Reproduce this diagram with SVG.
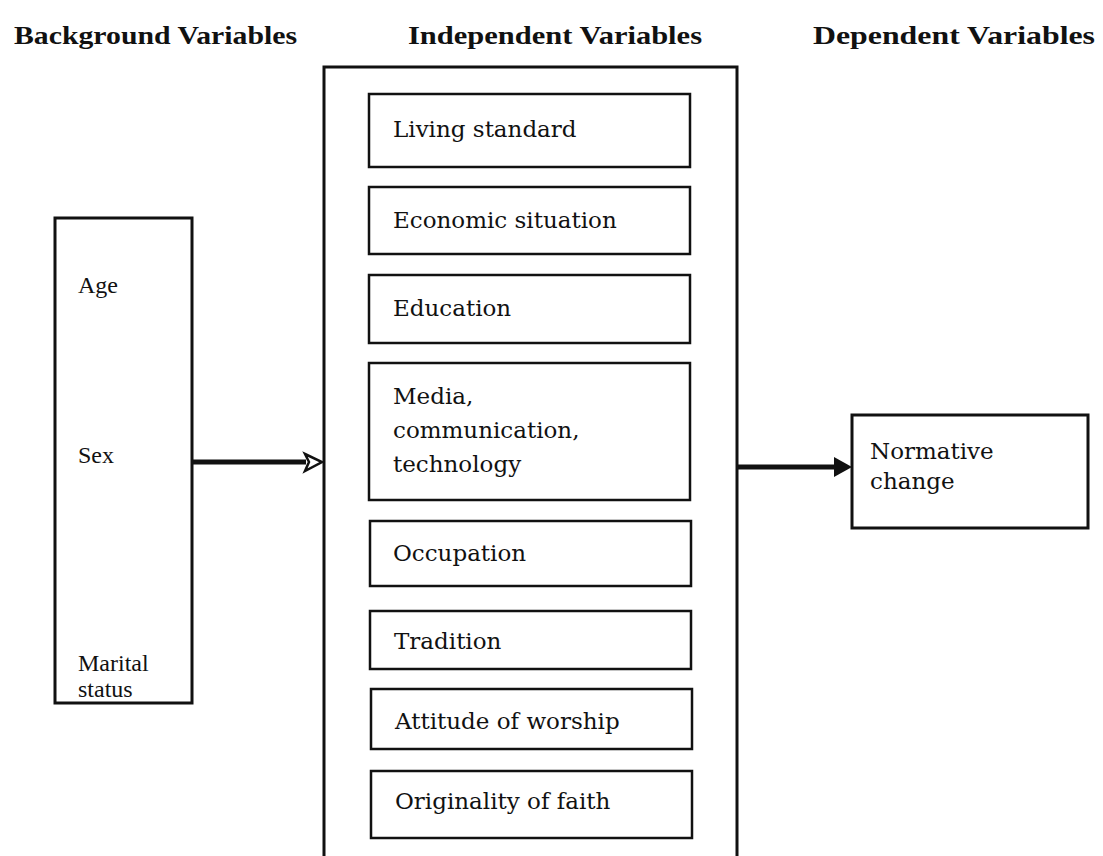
<svg xmlns="http://www.w3.org/2000/svg" width="1103" height="856" viewBox="0 0 1103 856">
<defs>
<style>
.title{font-family:"Liberation Serif","Times New Roman",serif;font-weight:bold;font-size:25px;fill:#111}
.lbl{font-family:"DejaVu Serif","Liberation Serif",serif;font-size:23px;fill:#111}
.side{font-family:"Liberation Serif","Times New Roman",serif;font-size:24px;fill:#111}
.box{fill:none;stroke:#111;stroke-width:2.5}
.big{fill:none;stroke:#111;stroke-width:3}
.conn{stroke:#111;stroke-width:5;fill:none}
</style>
</defs>
<rect width="1103" height="856" fill="#fff"/>

<g id="titles">
<text class="title" x="14" y="44" textLength="283" lengthAdjust="spacingAndGlyphs">Background Variables</text>
<text class="title" x="408" y="44" textLength="294" lengthAdjust="spacingAndGlyphs">Independent Variables</text>
<text class="title" x="813" y="44" textLength="282" lengthAdjust="spacingAndGlyphs">Dependent Variables</text>
</g>

<g id="background">
<rect class="big" x="55" y="218" width="137" height="485"/>
<text class="side" x="78" y="293">Age</text>
<text class="side" x="78" y="463">Sex</text>
<text class="side" x="78" y="671">Marital</text>
<text class="side" x="78" y="697">status</text>
</g>

<g id="independent">
<rect class="big" x="324" y="67" width="413" height="800"/>
</g>

<g id="living-standard">
<rect class="box" x="369" y="94" width="321" height="73"/>
<text class="lbl" x="393" y="137">Living standard</text>
</g>
<g id="economic-situation">
<rect class="box" x="369" y="187" width="321" height="67"/>
<text class="lbl" x="393" y="228">Economic situation</text>
</g>
<g id="education">
<rect class="box" x="369" y="275" width="321" height="68"/>
<text class="lbl" x="393" y="316">Education</text>
</g>
<g id="media">
<rect class="box" x="369" y="363" width="321" height="137"/>
<text class="lbl" x="393" y="404">Media,</text>
<text class="lbl" x="393" y="438">communication,</text>
<text class="lbl" x="393" y="472">technology</text>
</g>
<g id="occupation">
<rect class="box" x="370" y="521" width="321" height="65"/>
<text class="lbl" x="393" y="561">Occupation</text>
</g>
<g id="tradition">
<rect class="box" x="370" y="611" width="321" height="58"/>
<text class="lbl" x="394" y="649">Tradition</text>
</g>
<g id="attitude">
<rect class="box" x="371" y="689" width="321" height="60"/>
<text class="lbl" x="395" y="729">Attitude of worship</text>
</g>
<g id="originality">
<rect class="box" x="371" y="771" width="321" height="67"/>
<text class="lbl" x="395" y="809">Originality of faith</text>
</g>

<g id="normative-change">
<rect class="big" x="852" y="415" width="236" height="113"/>
<text class="lbl" x="870" y="459">Normative</text>
<text class="lbl" x="870" y="489">change</text>
</g>

<g id="connectors">
<line class="conn" x1="192" y1="462" x2="306" y2="462"/>
<path d="M305,454 L322,462 L305,471 L309,462 Z" fill="#fff" stroke="#111" stroke-width="2.5" stroke-linejoin="miter"/>
<line class="conn" x1="737" y1="467" x2="838" y2="467"/>
<path d="M834,457 L852,467 L834,477 Z" fill="#111"/>
</g>
</svg>
